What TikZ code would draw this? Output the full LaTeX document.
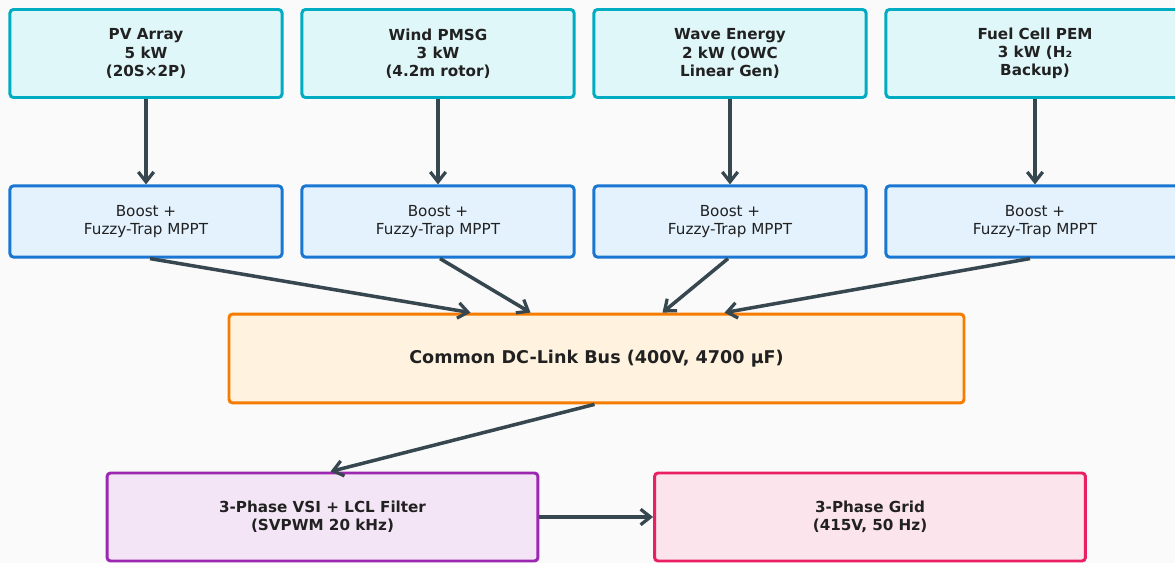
\documentclass[tikz,border=0pt]{standalone}
\usepackage{fontspec}
\setmainfont{DejaVu Sans}
\usetikzlibrary{arrows.meta,calc}

\definecolor{bgcol}{HTML}{FAFAFA}
\definecolor{txtcol}{HTML}{212121}
\definecolor{arrcol}{HTML}{37474F}
\definecolor{srcdraw}{HTML}{00ACC1}
\definecolor{srcfill}{HTML}{E0F7FA}
\definecolor{convdraw}{HTML}{1976D2}
\definecolor{convfill}{HTML}{E3F2FD}
\definecolor{busdraw}{HTML}{F57C00}
\definecolor{busfill}{HTML}{FFF3E0}
\definecolor{invdraw}{HTML}{9C27B0}
\definecolor{invfill}{HTML}{F3E5F5}
\definecolor{griddraw}{HTML}{E91E63}
\definecolor{gridfill}{HTML}{FCE4EC}

\tikzset{
  box/.style={rectangle, rounded corners=2.5pt, line width=2.1pt, inner sep=0pt,
    align=center, text=txtcol},
  srcbox/.style={box, draw=srcdraw, fill=srcfill, minimum width=6.8cm, minimum height=2.2cm,
    font=\fontsize{10.8}{12.9}\selectfont\bfseries},
  convbox/.style={box, draw=convdraw, fill=convfill, minimum width=6.8cm, minimum height=1.78cm,
    font=\fontsize{10.8}{12.9}\selectfont},
  busbox/.style={box, draw=busdraw, fill=busfill, minimum width=18.37cm, minimum height=2.22cm,
    font=\fontsize{12.5}{15}\selectfont\bfseries},
  outbox/.style={box, minimum width=10.77cm, minimum height=2.2cm,
    font=\fontsize{10.8}{12.9}\selectfont\bfseries},
  flow/.style={draw=arrcol, line width=2.5pt, -{Straight Barb[length=7pt,width=11pt,line width=2.3pt]}}
}

\begin{document}
\begin{tikzpicture}[x=0.025cm, y=-0.025cm]
\fill[bgcol] (0,0) rectangle (1175,563);
\useasboundingbox (0,0) rectangle (1175,563);
\clip (0,0) rectangle (1175,563);

   % energy sources
   \node[srcbox] (pv)   at (146,53.5) {PV Array\\5 kW\\(20S×2P)};
   \node[srcbox] (wind) at (438,53.5) {Wind PMSG\\3 kW\\(4.2m rotor)};
   \node[srcbox] (wave) at (730,53.5) {Wave Energy\\2 kW (OWC\\Linear Gen)};
   \node[srcbox, minimum width=7.45cm] (fc) at (1035,53.5) {Fuel Cell PEM\\3 kW (H₂\\Backup)};

   % converters
   \node[convbox] (pvb)   at (146,221.5) {Boost +\\Fuzzy-Trap MPPT};
   \node[convbox] (windb) at (438,221.5) {Boost +\\Fuzzy-Trap MPPT};
   \node[convbox] (waveb) at (730,221.5) {Boost +\\Fuzzy-Trap MPPT};
   \node[convbox, minimum width=7.45cm] (fcb) at (1035,221.5) {Boost +\\Fuzzy-Trap MPPT};

   % dc link and ac side
   \node[busbox] (bus) at (596.5,358.5) {Common DC-Link Bus (400V, 4700 µF)};
   \node[outbox, draw=invdraw, fill=invfill] (vsi) at (322.5,517) {3-Phase VSI + LCL Filter\\(SVPWM 20 kHz)};
   \node[outbox, draw=griddraw, fill=gridfill] (grid) at (870,517) {3-Phase Grid\\(415V, 50 Hz)};

\draw[flow] (pv.south) -- (pvb.north);
\draw[flow] (wind.south) -- (windb.north);
\draw[flow] (wave.south) -- (waveb.north);
\draw[flow] (fc.south) -- (fcb.north);
\draw[flow] ($(pvb.south)+(4,0)$) -- ($(bus.north)+(-126,0)$);
\draw[flow] ($(windb.south)+(2,0)$) -- ($(bus.north)+(-66,0)$);
\draw[flow] ($(waveb.south)+(-2,0)$) -- ($(bus.north)+(66,0)$);
\draw[flow] ($(fcb.south)+(-5,0)$) -- ($(bus.north)+(128,0)$);
\draw[flow] ($(bus.south)+(-2,0)$) -- ($(vsi.north)+(8,0)$);
\draw[flow] (vsi.east) -- (grid.west);
\end{tikzpicture}
\end{document}
